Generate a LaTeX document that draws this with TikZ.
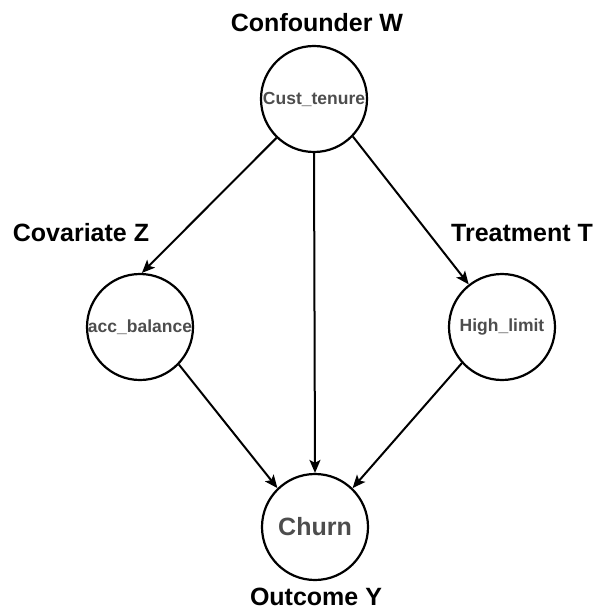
\documentclass[tikz,border=0pt]{standalone}
\usepackage{fontspec}
\setmainfont{Liberation Sans}
\usetikzlibrary{arrows.meta}
\definecolor{ntext}{HTML}{4D4D4D}
\begin{document}
\begin{tikzpicture}[x=1pt,y=-1pt,
  var/.style={circle,draw=black,line width=2.2pt,minimum size=106pt,inner sep=0pt,
    text=ntext,font=\bfseries\fontsize{17.5}{20}\selectfont},
  role/.style={font=\bfseries\fontsize{25}{28}\selectfont,text=black,inner sep=0pt},
  edge/.style={line width=2pt,-{Stealth[length=13pt,width=11pt,inset=3pt]}}]
\useasboundingbox (0,0) rectangle (593,612);
\node[var] (w) at (314,99) {Cust\_tenure};
\node[var] (z) at (140,327) {acc\_balance};
\node[var] (t) at (502,327) {High\_limit};
\node[var,font=\bfseries\fontsize{25}{28}\selectfont] (y) at (315,527) {Churn};
\node[role] (lw) at (317,23) {Confounder W};
\node[role] (lz) at (81,233) {Covariate Z};
\node[role] (lt) at (522,233) {Treatment T};
\node[role] (ly) at (316,597) {Outcome Y};
\draw[edge] (w.226) -- (z.88);
\draw[edge] (w.316) -- (t.128);
\draw[edge] (w.south) -- (y.north);
\draw[edge] (z.316) -- (y.134);
\draw[edge] (t.222) -- (y.46);
\end{tikzpicture}
\end{document}
